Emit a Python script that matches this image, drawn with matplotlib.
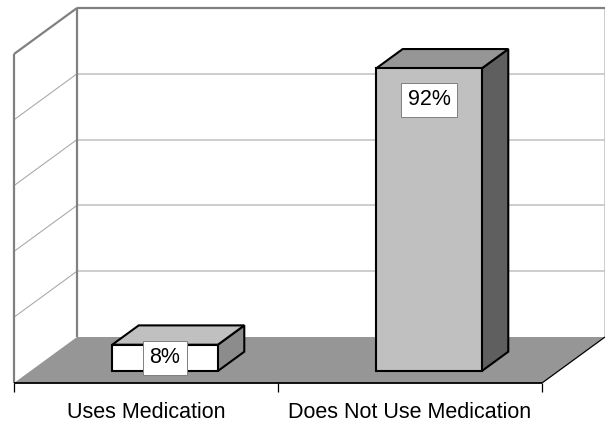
"""Excel-style 3D column chart: medication use, redrawn with matplotlib."""

import matplotlib

matplotlib.use("Agg")
import matplotlib.pyplot as plt
from matplotlib.patches import Polygon

# ── Data ────────────────────────────────────────────────────────────────
CATEGORIES = ["Uses Medication", "Does Not Use Medication"]
PERCENTS = [8, 92]
VALUE_LABELS = ["8%", "92%"]
GRID_VALUES = [20, 40, 60, 80]
VALUE_MAX = 100

# ── Layout (pixel geometry of the oblique projection) ────────────────────
FIG_W_PX, FIG_H_PX, DPI = 605, 423, 100
ORIGIN_PX = (14, 383)  # front-left corner of the floor, from top-left
PX_PER_CAT = 264
PX_PER_VAL = 3.29
DEPTH_DX_PX = 63
DEPTH_DY_PX = 46

BAR_WIDTH = 0.40
BAR_SHIFT = 0.01
BAR_DEPTH = (0.26, 0.68)
LABEL_DROP = 9.5  # value units below bar top for the label centre

# ── Style ────────────────────────────────────────────────────────────────
FONT = "Liberation Sans"
FONTSIZE = 15.5
FLOOR_COLOR = "#969696"
WALL_EDGE = "#808080"
GRID_BACK = "#c0c0c0"
GRID_SIDE = "#a6a6a6"
BAR_FRONT = ["#ffffff", "#c0c0c0"]
BAR_TOP = ["#c0c0c0", "#969696"]
BAR_SIDE = ["#8c8c8c", "#5f5f5f"]

DX = DEPTH_DX_PX / PX_PER_CAT
DY = DEPTH_DY_PX / PX_PER_VAL


def proj(u, v, w):
    """Category u, value v, depth w (0 front .. 1 back) -> axes data coords."""
    return u + w * DX, v + w * DY


def poly(ax, pts, **kw):
    ax.add_patch(Polygon([proj(*p) for p in pts], closed=True, **kw))


def line(ax, p0, p1, **kw):
    a, b = proj(*p0), proj(*p1)
    ax.plot([a[0], b[0]], [a[1], b[1]], solid_capstyle="butt", **kw)


def draw_walls(ax, n):
    # back wall and side wall, white
    poly(ax, [(0, 0, 1), (n, 0, 1), (n, VALUE_MAX, 1), (0, VALUE_MAX, 1)],
         facecolor="white", edgecolor="none", zorder=1)
    poly(ax, [(0, 0, 0), (0, 0, 1), (0, VALUE_MAX, 1), (0, VALUE_MAX, 0)],
         facecolor="white", edgecolor="none", zorder=1)
    for v in GRID_VALUES:
        line(ax, (0, v, 1), (n, v, 1), color=GRID_BACK, lw=1.1, zorder=2)
        line(ax, (0, v, 0), (0, v, 1), color=GRID_SIDE, lw=0.75, zorder=2)
    line(ax, (n, 0, 1), (n, VALUE_MAX, 1), color=GRID_BACK, lw=1.1, zorder=2)
    # darker wall borders
    for p0, p1 in [
        ((0, 0, 1), (0, VALUE_MAX, 1)),
        ((0, VALUE_MAX, 1), (n, VALUE_MAX, 1)),
        ((0, 0, 0), (0, VALUE_MAX, 0)),
        ((0, VALUE_MAX, 0), (0, VALUE_MAX, 1)),
    ]:
        line(ax, p0, p1, color=WALL_EDGE, lw=1.6, zorder=3)


def draw_floor(ax, n):
    poly(ax, [(0, 0, 0), (n, 0, 0), (n, 0, 1), (0, 0, 1)],
         facecolor=FLOOR_COLOR, edgecolor="none", zorder=3)
    line(ax, (0, 0, 0), (n, 0, 0), color="black", lw=1.3, zorder=4)
    line(ax, (n, 0, 0), (n, 0, 1), color="black", lw=0.9, zorder=4)
    # category ticks below the front edge
    for i in range(n + 1):
        line(ax, (i, 0, 0), (i, -2.6, 0), color="black", lw=0.9, zorder=4)


def draw_bar(ax, i, value):
    u0 = i + 0.5 + BAR_SHIFT - BAR_WIDTH / 2
    u1 = u0 + BAR_WIDTH
    w0, w1 = BAR_DEPTH
    style = dict(edgecolor="black", linewidth=1.5, joinstyle="miter", zorder=5)
    poly(ax, [(u1, 0, w0), (u1, 0, w1), (u1, value, w1), (u1, value, w0)],
         facecolor=BAR_SIDE[i], **style)
    poly(ax, [(u0, value, w0), (u1, value, w0), (u1, value, w1), (u0, value, w1)],
         facecolor=BAR_TOP[i], **style)
    poly(ax, [(u0, 0, w0), (u1, 0, w0), (u1, value, w0), (u0, value, w0)],
         facecolor=BAR_FRONT[i], **style)


def main() -> None:
    fig = plt.figure(figsize=(FIG_W_PX / DPI, FIG_H_PX / DPI), dpi=DPI)
    ax = fig.add_axes([0, 0, 1, 1])
    ax.set_axis_off()

    ox, oy = ORIGIN_PX
    ax.set_xlim(-ox / PX_PER_CAT, (FIG_W_PX - ox) / PX_PER_CAT)
    ax.set_ylim(-(FIG_H_PX - oy) / PX_PER_VAL, oy / PX_PER_VAL)

    n = len(CATEGORIES)
    draw_walls(ax, n)
    draw_floor(ax, n)

    w_front = BAR_DEPTH[0]
    for i, (value, label) in enumerate(zip(PERCENTS, VALUE_LABELS)):
        draw_bar(ax, i, value)
        cx = i + 0.5 + BAR_SHIFT
        ly = max(value - LABEL_DROP, value / 2)
        ax.text(*proj(cx, ly, w_front), label, family=FONT, fontsize=FONTSIZE,
                ha="center", va="center", zorder=6,
                bbox=dict(boxstyle="square,pad=0.3", facecolor="white",
                          edgecolor="#808080", linewidth=0.7))

    for i, cat in enumerate(CATEGORIES):
        ax.text(i + 0.5, -10.6, cat, family=FONT, fontsize=FONTSIZE,
                ha="center", va="baseline")

    fig.savefig("out.png", dpi=DPI)
    plt.close(fig)


if __name__ == "__main__":
    main()
